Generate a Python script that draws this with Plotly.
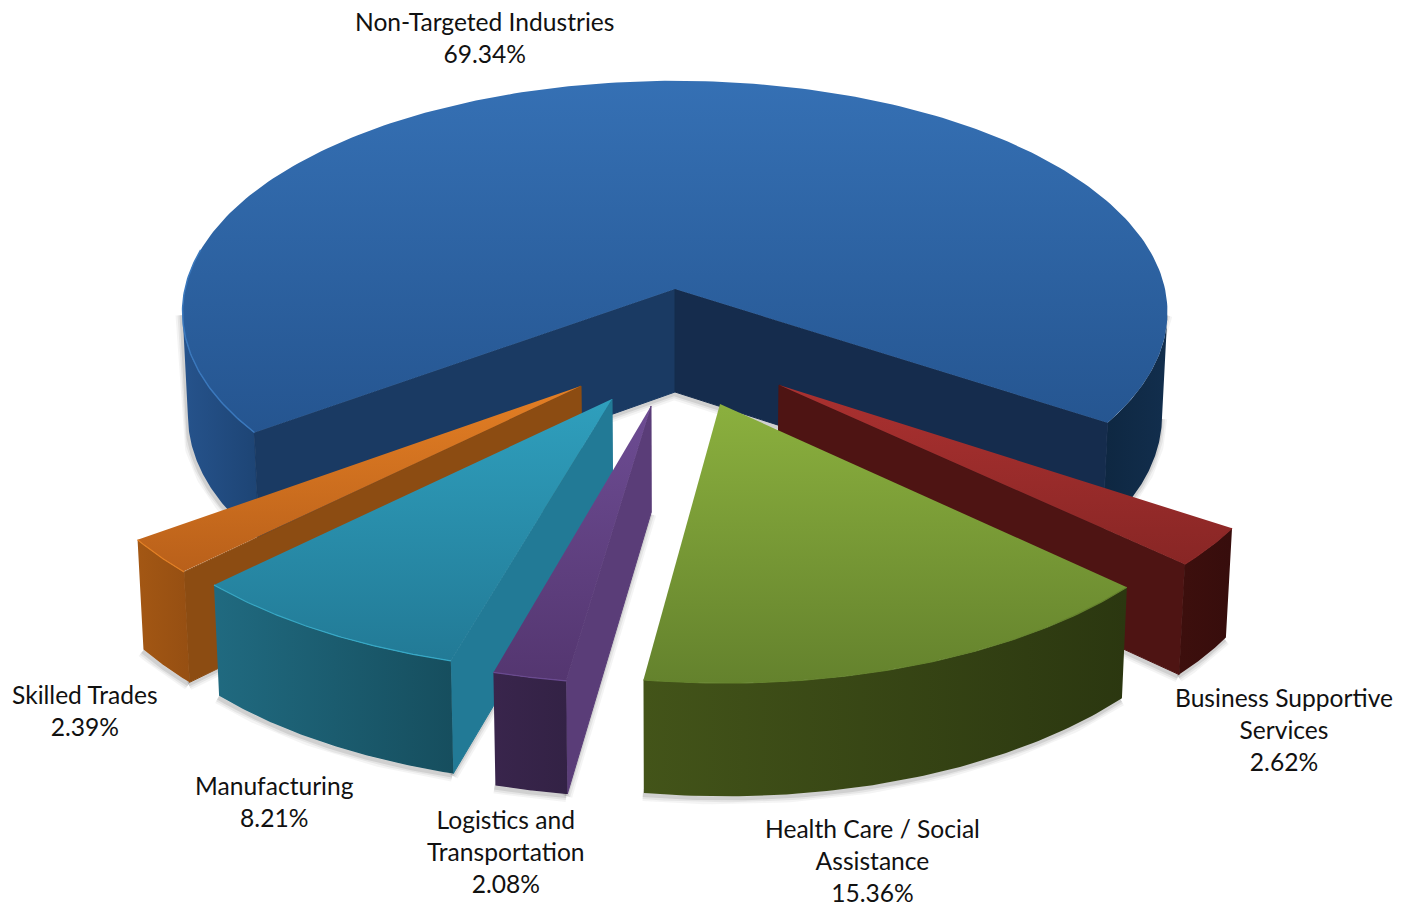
import math
import plotly.graph_objects as go

# ---- data ----
categories = ["Non-Targeted Industries", "Business Supportive Services",
              "Health Care / Social Assistance", "Logistics and Transportation",
              "Manufacturing", "Skilled Trades"]
values = [69.34, 2.62, 15.36, 2.08, 8.21, 2.39]
label_lines = [["Non-Targeted Industries"], ["Business Supportive", "Services"],
               ["Health Care / Social", "Assistance"], ["Logistics and", "Transportation"],
               ["Manufacturing"], ["Skilled Trades"]]

# ---- styling / layout ----
W, H = 1408, 904
CX, CY, RX, RY, PERSP = 675.0, 289.0, 490.0, 229.0, 0.10
DEPTH, BOTTOM_X = 103.0, 0.989
END_OF_FIRST = 123.5            # clockwise from "up", where slice 0 ends
label_xy = [(484, 37), (1284, 729), (872, 860), (506, 851), (274, 801), (85, 710)]
apex_px = [(675, 289), (779, 385), (720, 404), (651, 406), (612, 399), (581, 386)]
radius_scale = [(1, 1), (.99, .985), (.995, .99), (1, .985), (1, .975), (.996, .985)]
style = [
    dict(top=("#3570b4", "#255590"), outer=("#26538c", "#1d4474"), outer2=("#0e2741", "#122e4d"),
         cutL="#1a3a63", cutR="#152c4d", hl="#3a78bd"),
    dict(top=("#ab3130", "#882625"), outer=("#3d0f0d", "#370d0c"), cut="#4e1413", hl="#8a2726"),
    dict(top=("#8bb03e", "#64822d"), outer=("#435419", "#2b3710"), cut="#2b3710", hl="#64822d"),
    dict(top=("#6d4c93", "#543670"), outer=("#39254c", "#332245"), cut="#5a3d78", hl="#6a4a90"),
    dict(top=("#2f9fbd", "#227a96"), outer=("#206a80", "#164e5e"), cut="#227a96", hl="#36a8c6"),
    dict(top=("#e47f24", "#b9601a"), outer=("#a35714", "#964f12"), cut="#8c4c12", hl="#e27e22"),
]


def inv(px, py):
    d = CY - py
    v = d / (RY - PERSP * d)
    return (px - CX) * (1 + PERSP * v) / RX, v


def proj(u, v, bottom=False):
    s = 1 / (1 + PERSP * v)
    x, y = RX * u * s, -RY * v * s
    if bottom:
        return CX + x * BOTTOM_X, CY + y + DEPTH * s ** 0.6
    return CX + x, CY + y


def arc(i, a0, a1, bottom=False, n=80):
    u0, v0 = inv(*apex_px[i])
    sx, sy = radius_scale[i]
    pts = []
    for k in range(n + 1):
        t = math.radians(a0 + (a1 - a0) * k / n)
        pts.append(proj(u0 + sx * math.sin(t), v0 + sy * math.cos(t), bottom))
    return pts


def base(i, bottom=False):
    return proj(*inv(*apex_px[i]), bottom)


fig = go.Figure()


def poly(pts, c=None, grad=None, edge=None):
    xs = [p[0] for p in pts] + [pts[0][0]]
    ys = [p[1] for p in pts] + [pts[0][1]]
    line = dict(width=1, color=edge) if edge else dict(width=0)
    kw = dict(x=xs, y=ys, mode="lines", fill="toself", hoverinfo="skip",
              showlegend=False, line=line)
    if grad:
        kw["fillgradient"] = dict(type=grad[0], colorscale=[[0, grad[1]], [1, grad[2]]])
    else:
        kw["fillcolor"] = c
    fig.add_trace(go.Scatter(**kw))


def stroke(pts, color, width, dy=0, dx=0):
    fig.add_trace(go.Scatter(x=[p[0] + dx for p in pts], y=[p[1] + dy for p in pts], mode="lines",
                             hoverinfo="skip", showlegend=False,
                             line=dict(color=color, width=width, shape="linear")))


def shadow(pts):
    for w, a in ((12, .06), (8, .08), (4, .12)):
        stroke(pts, f"rgba(60,60,60,{a})", w, dy=2, dx=-1)


# angle spans from the values
total = sum(values)
spans = [v / total * 360 for v in values]
angles = []
a = END_OF_FIRST - spans[0]
for sp in spans:
    angles.append((a, a + sp))
    a += sp

# ---- main slice ----
a0, a1 = angles[0]
st = style[0]
SIL = 96    # angle at which the perspective ellipse is widest
left_bot = arc(0, a0, -SIL, True)
right_bot = arc(0, SIL, a1, True)
p_l, p_r = arc(0, a0, a0, n=1)[0], arc(0, a1, a1, n=1)[0]
pb_l, pb_r = left_bot[0], right_bot[-1]
left_top = arc(0, a0, -SIL)
right_top = arc(0, SIL, a1)
shadow([left_top[-1]] + left_bot[::-1])
shadow(right_bot + [right_top[0]])
shadow([pb_l, base(0, True), pb_r])
poly(left_top + left_bot[::-1], grad=("horizontal", st["outer"][0], st["outer"][1]))
poly(right_top + right_bot[::-1], grad=("horizontal", st["outer2"][0], st["outer2"][1]))
poly([base(0), p_l, pb_l, base(0, True)], st["cutL"], edge=st["cutL"])
poly([base(0), p_r, pb_r, base(0, True)], st["cutR"], edge=st["cutR"])
poly([base(0)] + arc(0, a0, a1, n=240), grad=("vertical", st["top"][1], st["top"][0]))
stroke(arc(0, a0, -80), st["hl"], 1.5)


# ---- exploded slices, back to front ----
def slice3d(i, cut_side):
    a0, a1 = angles[i]
    st = style[i]
    bot = arc(i, a0, a1, True)
    shadow(bot)
    if cut_side == "start":      # wall on the angular start edge faces the viewer
        e, eb = arc(i, a0, a0, n=1)[0], bot[0]
    else:
        e, eb = arc(i, a1, a1, n=1)[0], bot[-1]
    if cut_side:
        shadow([eb, base(i, True)])
        poly([base(i), e, eb, base(i, True)], st["cut"], edge=st["cut"])
    poly(arc(i, a0, a1) + bot[::-1], grad=("horizontal", st["outer"][0], st["outer"][1]))
    poly([base(i)] + arc(i, a0, a1), grad=("vertical", st["top"][1], st["top"][0]))
    stroke(arc(i, a0, a1), st["hl"], 1.2)


slice3d(5, "start")   # Skilled Trades
slice3d(1, "end")     # Business Supportive Services
slice3d(4, "start")   # Manufacturing
slice3d(3, "start")   # Logistics
slice3d(2, None)      # Health Care

# ---- labels ----
for lines, v, (lx, ly) in zip(label_lines, values, label_xy):
    fig.add_annotation(x=lx, y=ly, xref="x", yref="y", showarrow=False, xanchor="center",
                       yanchor="middle", align="center",
                       text="<br>".join(lines + [f"{v:.2f}%"]),
                       font=dict(family="Lato, sans-serif", size=24.6, color="#111111"))

fig.update_layout(width=W, height=H, margin=dict(l=0, r=0, t=0, b=0),
                  paper_bgcolor="white", plot_bgcolor="white",
                  xaxis=dict(range=[0, W], visible=False, fixedrange=True),
                  yaxis=dict(range=[H, 0], visible=False, fixedrange=True))
fig.write_html("out.html", config=dict(displayModeBar=False),
               post_script="document.body.style.margin='0';document.body.style.overflow='hidden';")
